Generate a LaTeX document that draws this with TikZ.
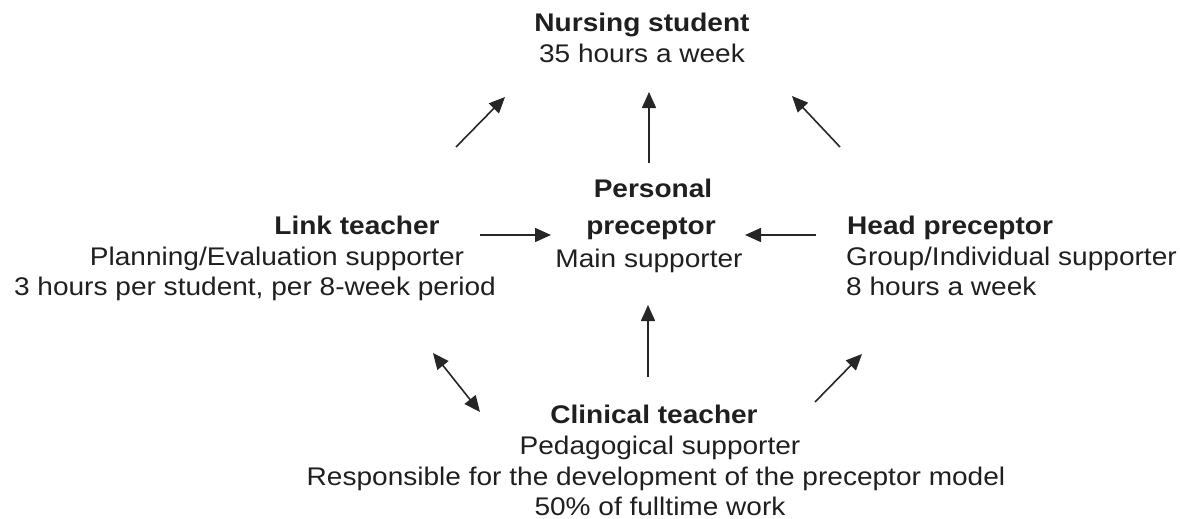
\documentclass[tikz,border=0pt]{standalone}
\usepackage{fontspec}
\setmainfont{Liberation Sans}[FakeStretch=1.1]
\usetikzlibrary{arrows.meta}

\begin{document}
\begin{tikzpicture}[x=1pt, y=-1pt,
  every node/.style={inner sep=0pt, text=black!88},
  role/.style={anchor=base, font=\fontsize{25.5}{30}\selectfont\bfseries},
  duty/.style={anchor=base, font=\fontsize{25.5}{30}\selectfont},
  link/.style={line width=1.6pt, draw=black!85, -{Triangle[length=16pt,width=14pt]}},
  twolink/.style={link, {Triangle[length=16pt,width=14pt]}-{Triangle[length=16pt,width=14pt]}}]

\useasboundingbox (0,0) rectangle (1180,519);

% student at the top
\node[role] (nurse) at (642,32) {Nursing student};
\node[duty] (nursehrs) at (642,63) {35 hours a week};

% personal preceptor in the middle
\node[role] (pers) at (653,197) {Personal};
\node[role] (perspre) at (651,234) {preceptor};
\node[duty] (persmain) at (649,267) {Main supporter};

% link teacher, left
\node[role] (linkt) at (357,234) {Link teacher};
\node[duty] (linkplan) at (277,265) {Planning/Evaluation supporter};
\node[duty] (linkhrs) at (255,295) {3 hours per student, per 8-week period};

% head preceptor, right
\node[role, anchor=base west] (head) at (847,234) {Head preceptor};
\node[duty, anchor=base west] (headgrp) at (846,265) {Group/Individual supporter};
\node[duty, anchor=base west] (headhrs) at (846,295) {8 hours a week};

% clinical teacher, bottom
\node[role] (clin) at (654,423) {Clinical teacher};
\node[duty] (clinped) at (660,454) {Pedagogical supporter};
\node[duty] (clinresp) at (656,485) {Responsible for the development of the preceptor model};
\node[duty] (clinwork) at (660,515) {50\% of fulltime work};

% arrow ends
\coordinate (a1) at (456,147); \coordinate (b1) at (505,97);
\coordinate (a2) at (649,163); \coordinate (b2) at (649,92);
\coordinate (a3) at (840,147); \coordinate (b3) at (792,96);
\coordinate (a4) at (480,235); \coordinate (b4) at (551,235);
\coordinate (a5) at (816,235); \coordinate (b5) at (745,235);
\coordinate (a6) at (648,377); \coordinate (b6) at (648,305);
\coordinate (a7) at (433,353); \coordinate (b7) at (480,412);
\coordinate (a8) at (815,402); \coordinate (b8) at (862,354);

\draw[link] (a1) -- (b1);
\draw[link] (a2) -- (b2);
\draw[link] (a3) -- (b3);
\draw[link] (a4) -- (b4);
\draw[link] (a5) -- (b5);
\draw[link] (a6) -- (b6);
\draw[twolink] (a7) -- (b7);
\draw[link] (a8) -- (b8);

\end{tikzpicture}
\end{document}
